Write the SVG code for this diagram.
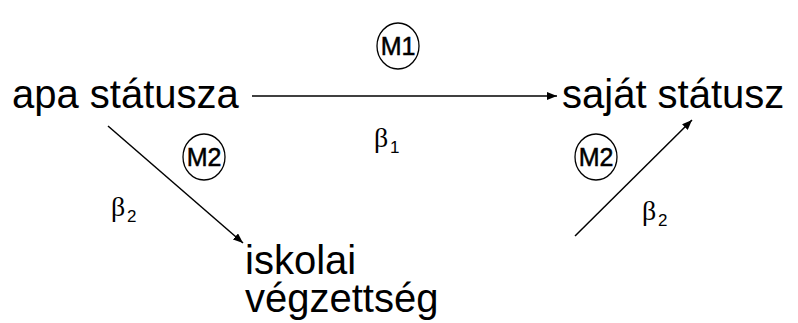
<svg xmlns="http://www.w3.org/2000/svg" width="798" height="323" viewBox="0 0 798 323">
<style>
.lbl{font-family:"Liberation Sans",Arial,sans-serif;font-size:40px;fill:#000}
.m{font-family:"Liberation Sans",Arial,sans-serif;font-size:25px;fill:#000;stroke:#000;stroke-width:0.5;text-anchor:middle}
.b{font-family:"Liberation Serif","DejaVu Serif",serif;font-size:28px;fill:#000}
.s{font-family:"Liberation Sans",Arial,sans-serif;font-size:17px;fill:#000}
.c{fill:none;stroke:#000;stroke-width:1.3}
.e{fill:none;stroke:#000;stroke-width:1.5}
</style>
<defs>
<marker id="ah" viewBox="0 0 10 8" refX="10" refY="4" markerWidth="10" markerHeight="8" markerUnits="userSpaceOnUse" orient="auto">
<path d="M0,0 L10,4 L0,8 z" fill="#000"/>
</marker>
</defs>
<rect width="798" height="323" fill="#fff"/>
<g id="connectors">
<line class="e" x1="252" y1="96" x2="557" y2="96" marker-end="url(#ah)"/>
<line class="e" x1="108" y1="126" x2="243" y2="243" marker-end="url(#ah)"/>
<line class="e" x1="575" y1="236" x2="692" y2="120" marker-end="url(#ah)"/>
</g>
<g id="apa"><text class="lbl" x="12" y="108">apa státusza</text></g>
<g id="sajat"><text class="lbl" x="562" y="108">saját státusz</text></g>
<g id="iskolai"><text class="lbl" x="245" y="274">iskolai</text><text class="lbl" x="245" y="312">végzettség</text></g>
<g id="m1"><ellipse class="c" cx="398" cy="46" rx="21" ry="23"/><text class="m" x="398" y="55">M1</text></g>
<g id="m2a"><ellipse class="c" cx="204" cy="157" rx="21" ry="23"/><text class="m" x="204" y="166">M2</text></g>
<g id="m2b"><ellipse class="c" cx="596" cy="157" rx="21" ry="23"/><text class="m" x="596" y="166">M2</text></g>
<g id="b1"><text class="b" x="374" y="147">β</text><text class="s" x="390" y="153">1</text></g>
<g id="b2a"><text class="b" x="111" y="216">β</text><text class="s" x="127" y="222">2</text></g>
<g id="b2b"><text class="b" x="642" y="220">β</text><text class="s" x="658" y="226">2</text></g>
</svg>
